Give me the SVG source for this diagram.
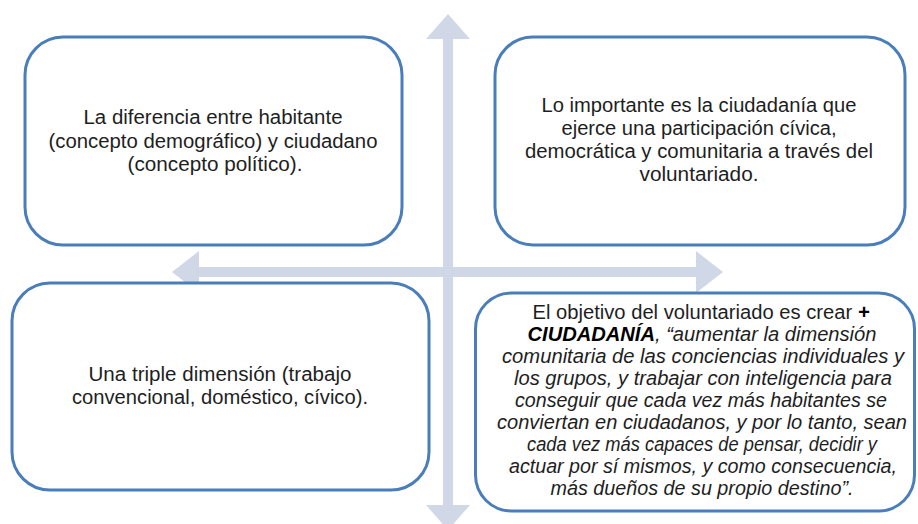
<svg xmlns="http://www.w3.org/2000/svg" width="918" height="524" viewBox="0 0 918 524">
<style>
.box{fill:#ffffff;stroke:#4a7ebb;stroke-width:3}
.arrow{fill:#d0d8e8}
text{font-family:"Liberation Sans",Arial,sans-serif;font-size:20px;fill:#1e1e1e;text-anchor:middle}
.it{font-style:italic}
.bi{font-style:italic;font-weight:bold;fill:#000}
</style>
<rect width="918" height="524" fill="#ffffff"/>
<g id="connectors">
<polygon class="arrow" points="448,14 470,39 453,39 453,505 470,505 448,530 426,505 443,505 443,39 426,39"/>
<polygon class="arrow" points="172,272 199,251 199,267 696,267 696,251 723,272 696,293 696,277 199,277 199,293"/>
</g>
<g id="node-habitante">
<rect class="box" x="25" y="37" width="377" height="208" rx="38"/>
<text x="213" y="124" textLength="259" lengthAdjust="spacingAndGlyphs">La diferencia  entre habitante</text>
<text x="213" y="148" textLength="329" lengthAdjust="spacingAndGlyphs">(concepto demográfico) y ciudadano</text>
<text x="215" y="171" textLength="175" lengthAdjust="spacingAndGlyphs">(concepto político).</text>
</g>
<g id="node-ciudadania">
<rect class="box" x="495" y="37" width="410" height="208" rx="38"/>
<text x="699" y="112" textLength="315" lengthAdjust="spacingAndGlyphs">Lo importante es la ciudadanía que</text>
<text x="699" y="135" textLength="275" lengthAdjust="spacingAndGlyphs">ejerce una participación cívica,</text>
<text x="699" y="158" textLength="348" lengthAdjust="spacingAndGlyphs">democrática y comunitaria a través del</text>
<text x="699" y="181" textLength="119" lengthAdjust="spacingAndGlyphs">voluntariado.</text>
</g>
<g id="node-triple">
<rect class="box" x="12" y="283" width="417" height="207" rx="38"/>
<text x="220" y="381" textLength="263" lengthAdjust="spacingAndGlyphs">Una triple dimensión (trabajo</text>
<text x="220" y="404" textLength="296" lengthAdjust="spacingAndGlyphs">convencional, doméstico, cívico).</text>
</g>
<g id="node-objetivo">
<rect class="box" x="475.5" y="293" width="439" height="218" rx="36"/>
<text x="701" y="319" textLength="337" lengthAdjust="spacingAndGlyphs">El objetivo del voluntariado es crear <tspan class="bi">+</tspan></text>
<text x="702" y="341" textLength="349" lengthAdjust="spacingAndGlyphs"><tspan class="bi">CIUDADANÍA</tspan><tspan class="it">, “aumentar la dimensión</tspan></text>
<text class="it" x="703" y="363" textLength="402" lengthAdjust="spacingAndGlyphs">comunitaria de las conciencias individuales y</text>
<text class="it" x="703" y="385" textLength="378" lengthAdjust="spacingAndGlyphs">los grupos, y trabajar con inteligencia para</text>
<text class="it" x="701" y="407" textLength="372" lengthAdjust="spacingAndGlyphs">conseguir que cada vez más habitantes se</text>
<text class="it" x="702" y="429" textLength="410" lengthAdjust="spacingAndGlyphs">conviertan en ciudadanos, y por lo tanto, sean</text>
<text class="it" x="702" y="451" textLength="350" lengthAdjust="spacingAndGlyphs">cada vez más capaces de pensar, decidir y</text>
<text class="it" x="703" y="473" textLength="388" lengthAdjust="spacingAndGlyphs">actuar por sí mismos, y como consecuencia,</text>
<text class="it" x="702" y="495" textLength="303" lengthAdjust="spacingAndGlyphs">más dueños de su propio destino”.</text>
</g>
</svg>
